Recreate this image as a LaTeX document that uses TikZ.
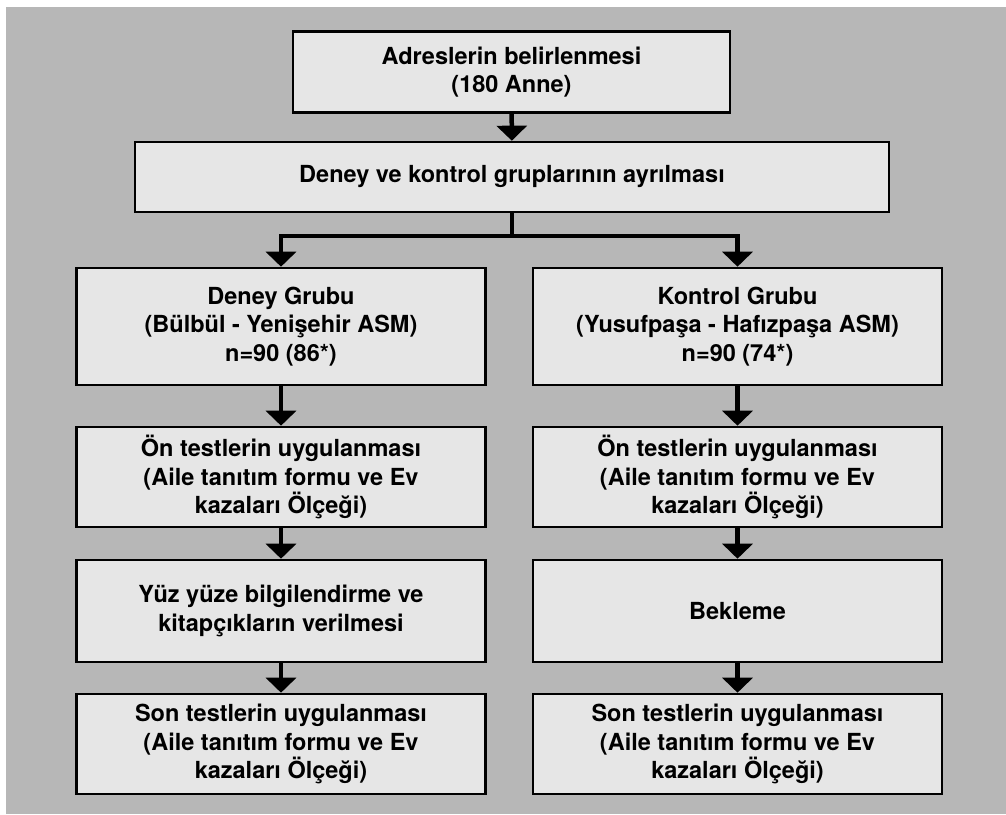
\documentclass[tikz,border=0pt]{standalone}
\usepackage{fontspec}
\setmainfont{TeX Gyre Heros}
\usetikzlibrary{arrows.meta}
\definecolor{panel}{HTML}{B7B7B7}
\definecolor{boxfill}{HTML}{E6E6E6}

\begin{document}
\begin{tikzpicture}[x=1pt,y=1pt,
  box/.style={draw=black,line width=2.6pt,fill=boxfill,align=center,inner sep=0pt,
    font=\fontsize{23.5}{28.7}\selectfont\bfseries},
  colbox/.style={box,minimum width=409pt,minimum height=#1},
  flow/.style={line width=4.5pt,-{Triangle[width=30pt,length=15pt]}}]
  \useasboundingbox (0,0) rectangle (1006,-814);
  \fill[panel] (6,-7) rectangle (1006,-814);

  % top of the chart
  \node[box,minimum width=437pt,minimum height=81pt] (adres) at (511.5,-72)
    {Adreslerin belirlenmesi\\(180 Anne)};
  \node[box,minimum width=754pt,minimum height=70pt] (ayrim) at (512,-177)
    {Deney ve kontrol gruplarının ayrılması};
  \coordinate (split) at (512,-236);

  % left column
  \node[colbox=117pt] (deney) at (281,-326.5)
    {Deney Grubu\\(Bülbül - Yenişehir ASM)\\n=90 (86*)};
  \node[colbox=100pt] (donTest) at (281,-477)
    {Ön testlerin uygulanması\\(Aile tanıtım formu ve Ev\\kazaları Ölçeği)};
  \node[colbox=102pt] (dEgitim) at (281,-611)
    {Yüz yüze bilgilendirme ve\\kitapçıkların verilmesi};
  \node[colbox=100pt] (dsonTest) at (281,-744)
    {Son testlerin uygulanması\\(Aile tanıtım formu ve Ev\\kazaları Ölçeği)};

  % right column
  \node[colbox=117pt] (kontrol) at (737.5,-326.5)
    {Kontrol Grubu\\(Yusufpaşa - Hafızpaşa ASM)\\n=90 (74*)};
  \node[colbox=100pt] (konTest) at (737.5,-477)
    {Ön testlerin uygulanması\\(Aile tanıtım formu ve Ev\\kazaları Ölçeği)};
  \node[colbox=102pt] (kBekle) at (737.5,-611) {Bekleme};
  \node[colbox=100pt] (ksonTest) at (737.5,-744)
    {Son testlerin uygulanması\\(Aile tanıtım formu ve Ev\\kazaları Ölçeği)};

  % arrows
  \draw[flow] (adres) -- (ayrim);
  \draw[line width=4.5pt] (ayrim.south) -- (split);
  \draw[flow] (split) -| (deney.north);
  \draw[flow] (split) -| (kontrol.north);
  \draw[flow] (deney) -- (donTest);
  \draw[flow] (donTest) -- (dEgitim);
  \draw[flow] (dEgitim) -- (dsonTest);
  \draw[flow] (kontrol) -- (konTest);
  \draw[flow] (konTest) -- (kBekle);
  \draw[flow] (kBekle) -- (ksonTest);
\end{tikzpicture}
\end{document}
